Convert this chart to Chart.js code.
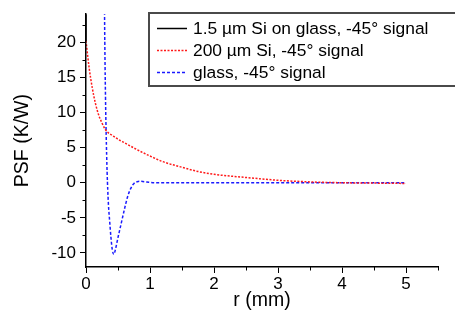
<!DOCTYPE html>
<html>
<head>
<meta charset="utf-8">
<script src="https://cdn.jsdelivr.net/npm/chart.js@4/dist/chart.umd.min.js"></script>
<style>
    html, body { margin: 0; padding: 0; background: #fff; }
    #wrap { width: 455px; height: 328px; }
</style>
</head>
<body>
<div id="wrap"><canvas id="psf-chart"></canvas></div>
<script>
// data: r in mm, PSF in K/W
const seriesLabels = ['1.5 \u00b5m Si on glass, -45\u00b0 signal', '200 \u00b5m Si, -45\u00b0 signal', 'glass, -45\u00b0 signal'];

const siR   = [0, 0.05, 0.1, 0.15, 0.2, 0.25, 0.3, 0.35, 0.4, 0.5, 0.6, 0.8, 1.0, 1.2, 1.5, 1.75, 2.0, 2.5, 3.0, 3.5, 4.0, 4.5, 5.0];
const siPsf = [20.2, 16.3, 13.4, 11.2, 9.6, 8.5, 7.6, 7.1, 6.8, 6.2, 5.7, 4.7, 3.8, 3.0, 2.2, 1.6, 1.2, 0.75, 0.35, 0.12, 0.0, -0.05, -0.1];

const glassR   = [0.28, 0.29, 0.305, 0.315, 0.33, 0.35, 0.37, 0.39, 0.41, 0.435, 0.46, 0.50, 0.55, 0.60, 0.65, 0.70, 0.75, 0.80, 0.85, 0.95, 1.1, 1.5, 2, 3, 4, 5];
const glassPsf = [40, 24, 12, 7, 1.5, -3, -5.5, -7.8, -9.5, -10.2, -9.5, -7.8, -5.8, -3.8, -2.0, -0.8, -0.1, 0.15, 0.2, 0.1, 0, 0, 0, 0, 0, 0];

// the thin Si trace is not visible in the figure apart from the legend;
// it runs up the left edge, under the axis line
const thinR   = [0, 0];
const thinPsf = [30, 20.2];

const xTicks = [0, 1, 2, 3, 4, 5];
const xMinor = [0.5, 1.5, 2.5, 3.5, 4.5, 5.5];
const yTicks = [-10, -5, 0, 5, 10, 15, 20];
const yMinor = [-7.5, -2.5, 2.5, 7.5, 12.5, 17.5, 22.5];

const toPoints = (xs, ys) => xs.map((x, i) => ({ x: x, y: ys[i] }));

const FONT = 'Liberation Sans, Arial, sans-serif';

// small ticks between the labelled ones
const minorTicks = {
    id: 'minorTicks',
    afterDraw(chart) {
        const ctx = chart.ctx;
        const xs = chart.scales.x, ys = chart.scales.y;
        ctx.save();
        ctx.strokeStyle = '#000';
        ctx.lineWidth = 1;
        xMinor.forEach(v => {
            const px = Math.round(xs.getPixelForValue(v)) + 0.5;
            ctx.beginPath();
            ctx.moveTo(px, ys.bottom);
            ctx.lineTo(px, ys.bottom + 3.5);
            ctx.stroke();
        });
        yMinor.forEach(v => {
            const py = Math.round(ys.getPixelForValue(v)) + 0.5;
            ctx.beginPath();
            ctx.moveTo(xs.left, py);
            ctx.lineTo(xs.left - 3.5, py);
            ctx.stroke();
        });
        ctx.restore();
    }
};

// boxed legend in the upper right, like the original
const boxLegend = {
    id: 'boxLegend',
    afterDraw(chart) {
        const ctx = chart.ctx;
        ctx.save();
        ctx.strokeStyle = '#4a4a4a';
        ctx.lineWidth = 2;
        ctx.fillStyle = '#fff';
        ctx.fillRect(149, 13, 310, 73);
        ctx.strokeRect(149, 13, 310, 73);
        const rows = [28, 50, 72];
        chart.data.datasets.forEach((ds, i) => {
            const y = rows[i] + 0.5;
            ctx.strokeStyle = ds.borderColor;
            ctx.lineWidth = ds.borderWidth;
            ctx.setLineDash(ds.borderDash || []);
            ctx.beginPath();
            ctx.moveTo(157, y);
            ctx.lineTo(187, y);
            ctx.stroke();
            ctx.setLineDash([]);
            ctx.fillStyle = '#000';
            ctx.font = '17.4px ' + FONT;
            ctx.textBaseline = 'middle';
            ctx.fillText(ds.label, 193, rows[i] + 1);
        });
        ctx.restore();
    }
};

new Chart(document.getElementById('psf-chart').getContext('2d'), {
    type: 'line',
    data: {
        datasets: [
            {
                label: seriesLabels[0],
                data: toPoints(thinR, thinPsf),
                borderColor: '#000000',
                borderWidth: 1.5,
                pointRadius: 0
            },
            {
                label: seriesLabels[1],
                data: toPoints(siR, siPsf),
                borderColor: '#ff1a1a',
                borderWidth: 1.5,
                borderDash: [2, 1.5],
                pointRadius: 0,
                cubicInterpolationMode: 'monotone'
            },
            {
                label: seriesLabels[2],
                data: toPoints(glassR, glassPsf),
                borderColor: '#1a1aff',
                borderWidth: 1.5,
                borderDash: [3, 2],
                pointRadius: 0,
                cubicInterpolationMode: 'monotone'
            }
        ]
    },
    options: {
        responsive: true,
        maintainAspectRatio: false,
        animation: false,
        layout: { padding: { top: 8, right: 17, left: 0, bottom: 0 } },
        plugins: {
            legend: { display: false },
            tooltip: { enabled: false }
        },
        scales: {
            x: {
                type: 'linear',
                min: 0,
                max: 5.5,
                afterBuildTicks: s => { s.ticks = xTicks.map(v => ({ value: v })); },
                afterFit: s => { s.height = 61; },
                grid: { drawOnChartArea: false, tickLength: 6, tickColor: '#000', tickWidth: 1 },
                border: { color: '#000', width: 1.5, z: 1 },
                ticks: { color: '#000', font: { family: FONT, size: 17 }, padding: 1, maxRotation: 0 },
                title: { display: true, text: 'r (mm)', color: '#000', font: { family: FONT, size: 19.5 }, padding: { bottom: 16 } }
            },
            y: {
                type: 'linear',
                min: -12,
                max: 24,
                afterBuildTicks: s => { s.ticks = yTicks.map(v => ({ value: v })); },
                afterFit: s => { s.width = 86; },
                grid: { drawOnChartArea: false, tickLength: 6, tickColor: '#000', tickWidth: 1 },
                border: { color: '#000', width: 1.5, z: 1 },
                ticks: { color: '#000', font: { family: FONT, size: 17 }, padding: 4 },
                title: { display: true, text: 'PSF (K/W)', color: '#000', font: { family: FONT, size: 19.5 }, padding: { top: 11 } }
            }
        }
    },
    plugins: [minorTicks, boxLegend]
});
</script>
</body>
</html>
